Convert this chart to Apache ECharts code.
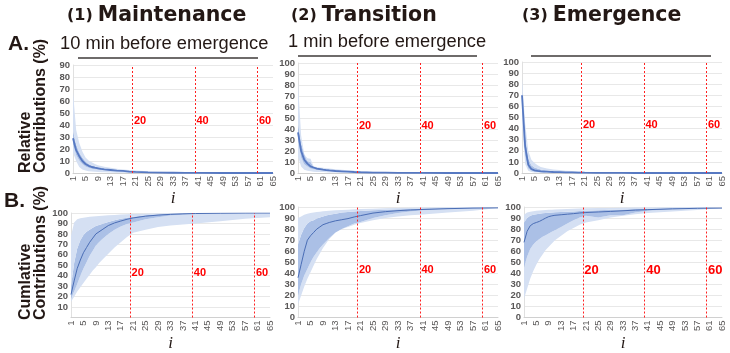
<!DOCTYPE html>
<html>
<head>
<meta charset="utf-8">
<script src="https://cdn.jsdelivr.net/npm/echarts@6/dist/echarts.min.js"></script>
<style>
html,body{margin:0;padding:0;background:#fff;}
#main{width:730px;height:353px;}
</style>
</head>
<body>
<div id="main"></div>
<script>
// x axis categories i = 1..65
var cats = [];
for (var n = 1; n <= 65; n++) cats.push(String(n));
// sampled i where values were read
var idx = [1,2,3,4,5,6,7,8,9,10,11,13,15,17,19,21,25,29,33,37,41,49,57,65];
var marks = ['20','40','60'];

// A. relative contributions (%)
var a1Mean    = [29,19,14,10,7.5,6,5,4.4,3.9,3.4,3,2.5,2,1.7,1.2,0.9,0.5,0.3,0.2,0.1,0.1,0,0,0];
var a1DarkLo  = [24,15,10.5,7.5,5.5,4.3,3.6,3.2,2.9,2.5,2.2,1.8,1.5,1.2,0.8,0.5,0.3,0.2,0.1,0,0,0,0,0];
var a1DarkHi  = [35,24,17,13,9.5,7.5,6.3,5.5,4.8,4.2,3.8,3.2,2.6,2.2,1.7,1.3,0.8,0.5,0.3,0.2,0.1,0.1,0,0];
var a1LightLo = [17,10,5,3,2,1.5,1.2,1,0.8,0.7,0.6,0.4,0.3,0.2,0.1,0,0,0,0,0,0,0,0,0];
var a1LightHi = [68,36,25,18,13,10.5,9,7.5,6.5,5.8,5.2,4.3,3.6,3,2.5,2,1.4,1,0.7,0.5,0.4,0.2,0.1,0.1];

var a2Mean    = [37,20,12,8.5,6,5,4,3.5,3,2.6,2.3,1.8,1.5,1.2,0.9,0.7,0.4,0.3,0.2,0.1,0.1,0,0,0];
var a2DarkLo  = [30,14,8,6,4,3.5,3,2.6,2.2,1.9,1.6,1.2,1,0.8,0.6,0.4,0.2,0.1,0.1,0,0,0,0,0];
var a2DarkHi  = [45,27,17,11,10,5.5,5,4.6,4.2,3.8,3.4,2.7,2.2,1.8,1.4,1.1,0.7,0.5,0.3,0.2,0.1,0.1,0,0];
var a2LightLo = [15,6,3,2,1.5,1.2,1,0.9,0.8,0.6,0.5,0.4,0.3,0.2,0.1,0,0,0,0,0,0,0,0,0];
var a2LightHi = [82,34,17,13.5,13,6,5.5,5,4.7,4.3,4,3.4,2.9,2.4,2,1.6,1.1,0.8,0.5,0.3,0.3,0.2,0.1,0.1];

var a3Mean    = [70,24,7.5,3.6,2.4,1.9,1.5,1.3,1.2,1,0.9,0.8,0.6,0.5,0.4,0.3,0.2,0.1,0.1,0,0,0,0,0];
var a3DarkLo  = [62,15,4,2,1.2,1,0.8,0.7,0.6,0.5,0.5,0.4,0.3,0.2,0.2,0.1,0,0,0,0,0,0,0,0];
var a3DarkHi  = [76,35,13,7,5,4,3.2,2.7,2.3,2,1.8,1.5,1.2,1,0.8,0.6,0.4,0.3,0.2,0.1,0.1,0,0,0];
var a3LightLo = [45,8,2,1,0.5,0.4,0.3,0.2,0.2,0.1,0.1,0,0,0,0,0,0,0,0,0,0,0,0,0];
var a3LightHi = [85,45,20,12,9,7,5.5,4.7,4,3.5,3.2,2.6,2.1,1.7,1.4,1.1,0.7,0.5,0.3,0.2,0.2,0.1,0.1,0];

// B. cumulative contributions (%)
var b1Mean    = [22,35,47,55,62,67,72,76,80,82,84,88,90.5,92.3,94,95.3,97,98,98.7,99.2,99.5,99.8,100,100];
var b1DarkLo  = [18,25,32,40,47,53,59,64,69,72,75,80,84,87,89.5,91,94,96,97.5,98.4,99,99.6,99.8,100];
var b1DarkHi  = [30,52,66,74,79,82,84,86,87.5,88.5,89.5,91.5,93,94.5,95.5,96.5,97.8,98.8,99.3,99.6,99.8,100,100,100];
var b1LightLo = [15,20,25,29,33,37,41,45,48,52,55,61,67,72,77,81,84,86.5,88,89,90,92,94.5,96];
var b1LightHi = [78,91,94,95,95.5,96,96.3,96.6,97,97.2,97.4,97.8,98.2,98.5,98.8,99,99.4,99.6,99.8,99.9,100,100,100,100];

var b2Mean    = [36,48,60,70,74,77,80,82,84,85,86,87.5,88.5,89.5,91,92.2,94.5,95.8,96.7,97.3,97.8,98.5,99,99.2];
var b2DarkLo  = [20,30,38,44,50,55,59,63,66,69,72,77,80,82.5,85,86.5,90,92.5,94.5,96,97,98.2,98.8,99];
var b2DarkHi  = [66,75,81,85,87,88,89.5,90.5,91.5,92.3,93,94,95,95.5,96,96.3,97,97.6,98,98.3,98.6,99,99.2,99.4];
var b2LightLo = [12,20,28,35,41,47,53,58,63,67,71,77,80,82,84,85.5,88,90,91.5,92.5,93.3,95,96.5,97.5];
var b2LightHi = [90,91.5,93,94,94.5,95,95.4,95.8,96.1,96.4,96.6,97,97.3,97.6,97.9,98.1,98.5,98.8,99.1,99.3,99.5,99.7,99.8,99.9];

var b3Mean    = [68,78,83,85,86,87,88.5,90,91.3,92,92.5,93,93.5,94,94.6,95,95.5,96,96.6,97.2,97.6,98.3,98.8,99];
var b3DarkLo  = [45,55,62,66,69,71,73,74.5,76,77.5,79,82,85,88,90.5,92,90.5,92.5,92.5,95,96.5,98,98.8,99];
var b3DarkHi  = [86,90,92,93,93.5,94,94.3,94.6,94.8,95,95.2,95.5,95.8,96,96.3,96.5,97,97.4,97.8,98.2,98.5,99,99.3,99.5];
var b3LightLo = [17,26,35,42,48,53,57,61,64,67,70,74,78,81,84,86,88,90.5,92,93.5,94.6,96,97.3,98];
var b3LightHi = [93,95,95.8,96.2,96.5,96.8,97,97.2,97.4,97.6,97.8,98,98.2,98.4,98.6,98.8,99,99.2,99.4,99.5,99.6,99.8,99.9,100];

var panels = [
	{mean:a1Mean, dLo:a1DarkLo, dHi:a1DarkHi, lLo:a1LightLo, lHi:a1LightHi},
	{mean:a2Mean, dLo:a2DarkLo, dHi:a2DarkHi, lLo:a2LightLo, lHi:a2LightHi},
	{mean:a3Mean, dLo:a3DarkLo, dHi:a3DarkHi, lLo:a3LightLo, lHi:a3LightHi},
	{mean:b1Mean, dLo:b1DarkLo, dHi:b1DarkHi, lLo:b1LightLo, lHi:b1LightHi},
	{mean:b2Mean, dLo:b2DarkLo, dHi:b2DarkHi, lLo:b2LightLo, lHi:b2LightHi},
	{mean:b3Mean, dLo:b3DarkLo, dHi:b3DarkHi, lLo:b3LightLo, lHi:b3LightHi}
];

// layout
var grids = [
	{left:73, top:65, width:200, height:108},
	{left:298, top:63, width:200, height:110},
	{left:522, top:62, width:200, height:111},
	{left:71, top:213, width:199, height:108},
	{left:298, top:207, width:200, height:115},
	{left:524, top:207, width:198, height:112}
];
var yMax = [90,100,100,100,100,100];
var markFont = [11,11,11,11,11,13];
var nameGaps = [11,11,11,13,13,13];

var lightColor = '#d5e0f3';
var darkColor = '#abc0e6';
var txtColor = '#231815';
var tickColor = '#595757';

var xAxes = [], yAxes = [], series = [];

grids.forEach(function(g, k){
	xAxes.push({
		gridIndex:k, type:'category', data:cats, boundaryGap:false,
		axisLine:{lineStyle:{color:'#d0d0d0'}},
		axisTick:{show:false},
		axisLabel:{interval:3, rotate:90, fontSize:9.5, color:tickColor, margin:3, fontFamily:'Liberation Sans'},
		name:'i', nameLocation:'middle', nameGap:nameGaps[k],
		nameTextStyle:{fontFamily:'Liberation Serif', fontStyle:'italic', fontSize:17, color:txtColor}
	});
	yAxes.push({
		gridIndex:k, type:'value', min:0, max:yMax[k], interval:10,
		axisLine:{show:true, lineStyle:{color:'#e0e0e0'}},
		axisTick:{show:false},
		splitLine:{lineStyle:{color:'#e8e8e8'}},
		axisLabel:{fontSize:9.5, fontWeight:'bold', color:tickColor, margin:3, fontFamily:'Liberation Sans',
			formatter:function(v){ return (k == 3 && v == 0) ? '' : v; }}
	});

	var p = panels[k];
	var lo = [], s1 = [], s2 = [], s3 = [], mean = [];
	for (var j = 0; j < idx.length; j++) {
		var c = String(idx[j]);
		lo.push([c, p.lLo[j]]);
		s1.push([c, Math.max(0, p.dLo[j] - p.lLo[j])]);
		s2.push([c, Math.max(0, p.dHi[j] - p.dLo[j])]);
		s3.push([c, Math.max(0, p.lHi[j] - p.dHi[j])]);
		mean.push([c, p.mean[j]]);
	}
	var st = 'band' + k;
	var base = {type:'line', xAxisIndex:k, yAxisIndex:k, stack:st, symbol:'none', silent:true, lineStyle:{width:0, opacity:0}};
	series.push(Object.assign({}, base, {data:lo}));
	series.push(Object.assign({}, base, {data:s1, areaStyle:{color:lightColor, opacity:1}}));
	series.push(Object.assign({}, base, {data:s2, areaStyle:{color:darkColor, opacity:1}}));
	series.push(Object.assign({}, base, {data:s3, areaStyle:{color:lightColor, opacity:1}}));
	series.push({
		type:'line', xAxisIndex:k, yAxisIndex:k, symbol:'none', silent:true, data:mean,
		lineStyle:{color: k < 3 ? '#5779c2' : '#4a6db5', width: k < 3 ? 1.8 : 1},
		markLine:{
			silent:true, symbol:['none','none'],
			lineStyle:{color:'#ff2020', type:[2,2], width:1},
			label:{show:false},
			data:marks.map(function(m){ return {xAxis:m}; })
		},
		markPoint:{
			silent:true, symbol:'rect', symbolSize:1, itemStyle:{color:'rgba(0,0,0,0)'},
			label:{show:true, position:'right', distance:1, formatter:'{b}', color:'#ff0000',
				fontWeight:'bold', fontSize:markFont[k], fontFamily:'Liberation Sans'},
			data:marks.map(function(m){ return {name:m, coord:[m, 43]}; })
		}
	});
});

function rotText(x, y, t){
	return {type:'text', x:x, y:y, rotation:Math.PI/2, silent:true,
		style:{text:t, font:'bold 16px "Liberation Sans"', fill:txtColor, textAlign:'left', textVerticalAlign:'top'}};
}

var option = {
	animation:false,
	backgroundColor:'#fff',
	title:[
		{text:'{a|(1)} {b|Maintenance}', left:67, top:5, padding:0, textStyle:{rich:{
			a:{fontSize:16, fontWeight:'bold', color:txtColor, fontFamily:'DejaVu Sans'},
			b:{fontSize:20.5, fontWeight:'bold', color:txtColor, fontFamily:'DejaVu Sans'}}}},
		{text:'{a|(2)} {b|Transition}', left:291, top:5, padding:0, textStyle:{rich:{
			a:{fontSize:16, fontWeight:'bold', color:txtColor, fontFamily:'DejaVu Sans'},
			b:{fontSize:20.5, fontWeight:'bold', color:txtColor, fontFamily:'DejaVu Sans'}}}},
		{text:'{a|(3)} {b|Emergence}', left:522, top:5, padding:0, textStyle:{rich:{
			a:{fontSize:16, fontWeight:'bold', color:txtColor, fontFamily:'DejaVu Sans'},
			b:{fontSize:20.5, fontWeight:'bold', color:txtColor, fontFamily:'DejaVu Sans'}}}},
		{text:'A.', left:8, top:34, padding:0, textStyle:{fontSize:21, fontWeight:'bold', color:txtColor, fontFamily:'Liberation Sans'}},
		{text:'B.', left:4, top:191, padding:0, textStyle:{fontSize:21, fontWeight:'bold', color:txtColor, fontFamily:'Liberation Sans'}},
		{text:'10 min before emergence', left:60, top:35, padding:0, textStyle:{fontSize:18.3, fontWeight:'normal', color:txtColor, fontFamily:'Liberation Sans'}},
		{text:'1 min before emergence', left:288, top:33, padding:0, textStyle:{fontSize:18.3, fontWeight:'normal', color:txtColor, fontFamily:'Liberation Sans'}}
	],
	graphic:[
		{type:'line', silent:true, shape:{x1:78, y1:58, x2:258, y2:58}, style:{stroke:'#3e3a39', lineWidth:1.5}},
		{type:'line', silent:true, shape:{x1:298, y1:56, x2:477, y2:56}, style:{stroke:'#3e3a39', lineWidth:1.5}},
		{type:'line', silent:true, shape:{x1:531, y1:56, x2:711, y2:56}, style:{stroke:'#3e3a39', lineWidth:1.5}},
		rotText(18, 173, 'Relative'),
		rotText(33, 173, 'Contributions (%)'),
		rotText(18, 320, 'Cumlative'),
		rotText(33, 320, 'Contributions (%)')
	],
	grid:grids,
	xAxis:xAxes,
	yAxis:yAxes,
	series:series
};

var myChart = echarts.init(document.getElementById('main'));
myChart.setOption(option);
</script>
</body>
</html>
